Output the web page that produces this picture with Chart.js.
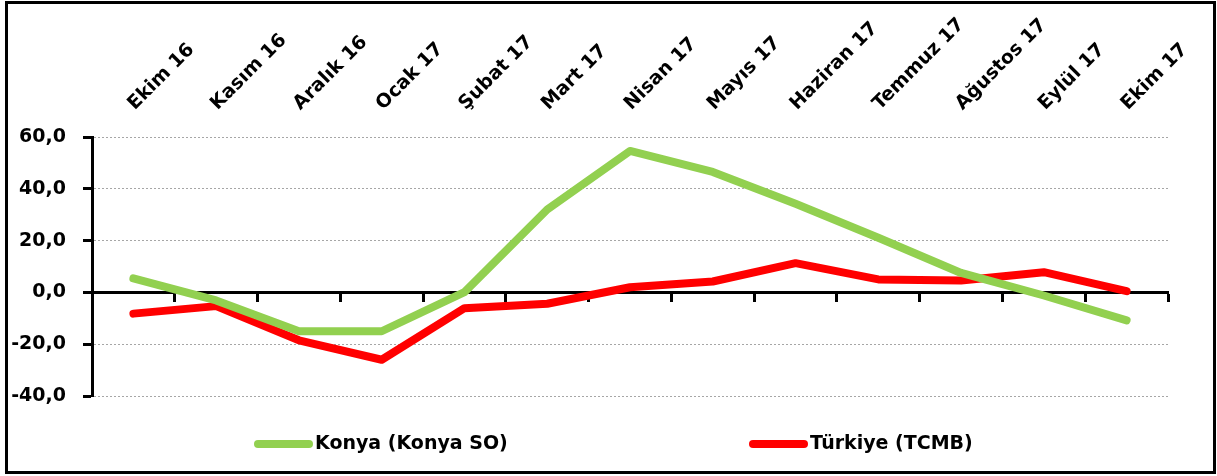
<!DOCTYPE html>
<html>
<head>
<meta charset="utf-8">
<script src="https://cdn.jsdelivr.net/npm/chart.js@4"></script>
<style>
  html, body { margin: 0; padding: 0; background: #fff; }
  #kutu { position: relative; width: 1217px; height: 476px; }
  #cerceve { position: absolute; left: 5px; top: 1px; width: 1205px; height: 467px; border: 3px solid #000; pointer-events: none; }
  #grafik { position: absolute; left: 0; top: 0; }
  .lejant { position: absolute; top: 430px; font: 700 19px "DejaVu Sans", sans-serif; line-height: 24px; color: #000; white-space: nowrap; }
  .lejant span { display: inline-block; width: 59px; height: 8px; border-radius: 4px; vertical-align: middle; margin-right: 2px; }
</style>
</head>
<body>
<div id="kutu">
  <canvas id="grafik" width="1217" height="476"></canvas>
  <div id="cerceve"></div>
  <div class="lejant" style="left:254px"><span style="background:#92D050"></span>Konya (Konya SO)</div>
  <div class="lejant" style="left:749px"><span style="background:#FF0000"></span>Türkiye (TCMB)</div>
</div>
<script>
// Aylar ve seriler
const aylar = ['Ekim 16', 'Kasım 16', 'Aralık 16', 'Ocak 17', 'Şubat 17', 'Mart 17', 'Nisan 17',
               'Mayıs 17', 'Haziran 17', 'Temmuz 17', 'Ağustos 17', 'Eylül 17', 'Ekim 17'];
const konya = [5.4, -3.1, -15.0, -15.0, 0.1, 32.0, 54.6, 46.5, 34.2, 21.1, 7.5, -1.2, -10.8];
const turkiye = [-8.2, -5.3, -18.5, -26.0, -6.1, -4.4, 2.0, 4.2, 11.3, 5.0, 4.6, 7.8, 0.5];
const yMin = -40;
const yMax = 60;
const yAdim = 20;

const yaziTipi = { family: '"DejaVu Sans", sans-serif', size: 19, weight: 'bold' };

const ctx = document.getElementById('grafik').getContext('2d');
const chart = new Chart(ctx, {
    type: 'line',
    data: {
        labels: aylar,
        datasets: [{
            label: 'Konya (Konya SO)',
            data: konya,
            borderColor: '#92D050',
            borderWidth: 8,
            borderCapStyle: 'round',
            borderJoinStyle: 'round',
            pointRadius: 0,
            tension: 0
        }, {
            label: 'Türkiye (TCMB)',
            data: turkiye,
            borderColor: '#FF0000',
            borderWidth: 8,
            borderCapStyle: 'round',
            borderJoinStyle: 'round',
            pointRadius: 0,
            tension: 0
        }]
    },
    options: {
        responsive: false,
        animation: false,
        layout: { padding: { left: 10, right: 49, top: 0, bottom: 80 } },
        plugins: {
            legend: { display: false },
            tooltip: { enabled: false }
        },
        scales: {
            x: {
                type: 'category',
                position: 'top',
                offset: true,
                grid: { display: false },
                border: { display: false },
                ticks: {
                    color: '#000',
                    font: yaziTipi,
                    minRotation: 45,
                    maxRotation: 45,
                    padding: 14,
                    labelOffset: 14,
                    autoSkip: false
                },
                afterFit: (s) => { s.height = 137; s.paddingLeft = 0; s.paddingRight = 0; }
            },
            x0: {
                type: 'category',
                axis: 'x',
                position: { y: 0 },
                offset: true,
                ticks: { display: false },
                grid: {
                    offset: true,
                    drawOnChartArea: false,
                    drawTicks: true,
                    tickLength: 8,
                    tickColor: '#000',
                    tickWidth: 3
                },
                border: { color: '#000', width: 3 }
            },
            y: {
                min: yMin,
                max: yMax,
                ticks: {
                    stepSize: yAdim,
                    color: '#000',
                    font: yaziTipi,
                    padding: 17,
                    callback: (v) => v.toFixed(1).replace('.', ',')
                },
                grid: {
                    color: (c) => c.tick && c.tick.value === 0 ? 'rgba(0,0,0,0)' : '#a6a6a6',
                    lineWidth: 1,
                    tickColor: '#000',
                    tickWidth: 3,
                    tickLength: 9,
                    tickBorderDash: []
                },
                border: { color: '#000', width: 3, dash: [2, 2] },
                afterFit: (s) => { s.width = 82; s.paddingTop = 0; s.paddingBottom = 0; }
            }
        }
    }
});
</script>
</body>
</html>
